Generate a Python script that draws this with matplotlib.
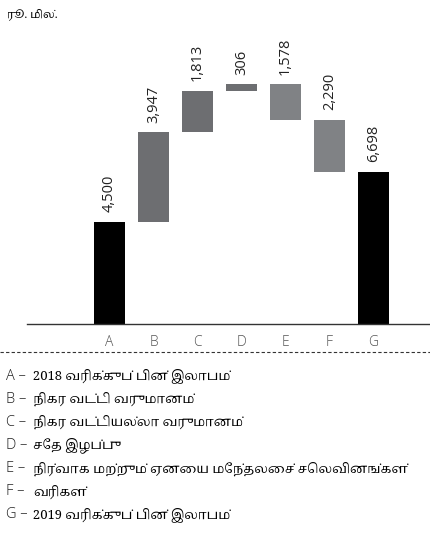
import matplotlib
matplotlib.use("Agg")
import matplotlib.pyplot as plt
import numpy as np

# datos (ரூ. மில்.)
categories = ["A", "B", "C", "D", "E", "F", "G"]
changes = [4500, 3947, 1813, 306, -1578, -2290, 6698]
value_labels = ["4,500", "3,947", "1,813", "306", "1,578", "2,290", "6,698"]
is_total = [True, False, False, False, False, False, True]
legend_items = [
    "2018 வரிக்குப் பின் இலாபம்",
    "நிகர வட்டி வருமானம்",
    "நிகர வட்டியல்லா வருமானம்",
    "சேத இழப்பு",
    "நிர்வாக மற்றும் ஏனைய மேந்தலைச் செலவினங்கள்",
    "வரிகள்",
    "2019 வரிக்குப் பின் இலாபம்",
]

TAMIL = ["Noto Serif Tamil", "DejaVu Sans"]
LATIN = ["Open Sans", "DejaVu Sans"]

# bases y alturas de la cascada
bottoms, heights, colors = [], [], []
running = 0
for v, tot in zip(changes, is_total):
    if tot:
        bottoms.append(0)
        heights.append(v)
        colors.append("black")
        running = v
    else:
        bottoms.append(running if v > 0 else running + v)
        heights.append(abs(v))
        colors.append("#6d6e71" if v > 0 else "#808285")
        running += v

fig = plt.figure(figsize=(4.31, 5.48), dpi=100)
W, H = 431, 548
ax = fig.add_axes([27 / W, 1 - 324 / H, 1 - 27 / W, 284 / H])

x = np.arange(len(categories))
ax.bar(x, heights, bottom=bottoms, width=0.705, color=colors, zorder=2)

for xi, b, h, lab in zip(x, bottoms, heights, value_labels):
    ax.annotate(lab, (xi, b + h), xytext=(0, 7), textcoords="offset points",
                rotation=90, ha="center", va="bottom", fontsize=10.5,
                family=LATIN, color="#222222", annotation_clip=False)

ax.set_xlim(-1.875, 7.307)
ax.set_ylim(0, 284 / 0.02269)
for s in ["top", "right", "left"]:
    ax.spines[s].set_visible(False)
ax.spines["bottom"].set_color("#333333")
ax.spines["bottom"].set_linewidth(1.0)
ax.set_yticks([])
ax.set_xticks(x)
ax.set_xticklabels(categories, family=LATIN, fontsize=10, color="#555555",
                   fontweight="light")
ax.tick_params(axis="x", length=0, pad=8)

# titulo de unidades
fig.text(7 / W, 1 - 14 / H, "ரூ. மில்.", family=TAMIL, fontsize=8,
         va="center", ha="left")

# linea punteada
fig.add_artist(plt.Line2D([0, 1], [1 - 352 / H, 1 - 352 / H], transform=fig.transFigure,
                          color="#333333", lw=0.8, linestyle=(0, (3, 2))))

# leyenda
for i, (c, t) in enumerate(zip(categories, legend_items)):
    y = 1 - (376 + i * 23.1) / H
    fig.text(6 / W, y, c + " –", family=LATIN, fontsize=10.5, color="#222222",
             fontweight="light", va="center", ha="left")
    fig.text(33 / W, y, t, family=TAMIL, fontsize=9.3, color="black",
             va="center", ha="left")

fig.savefig("out.png", dpi=100)
